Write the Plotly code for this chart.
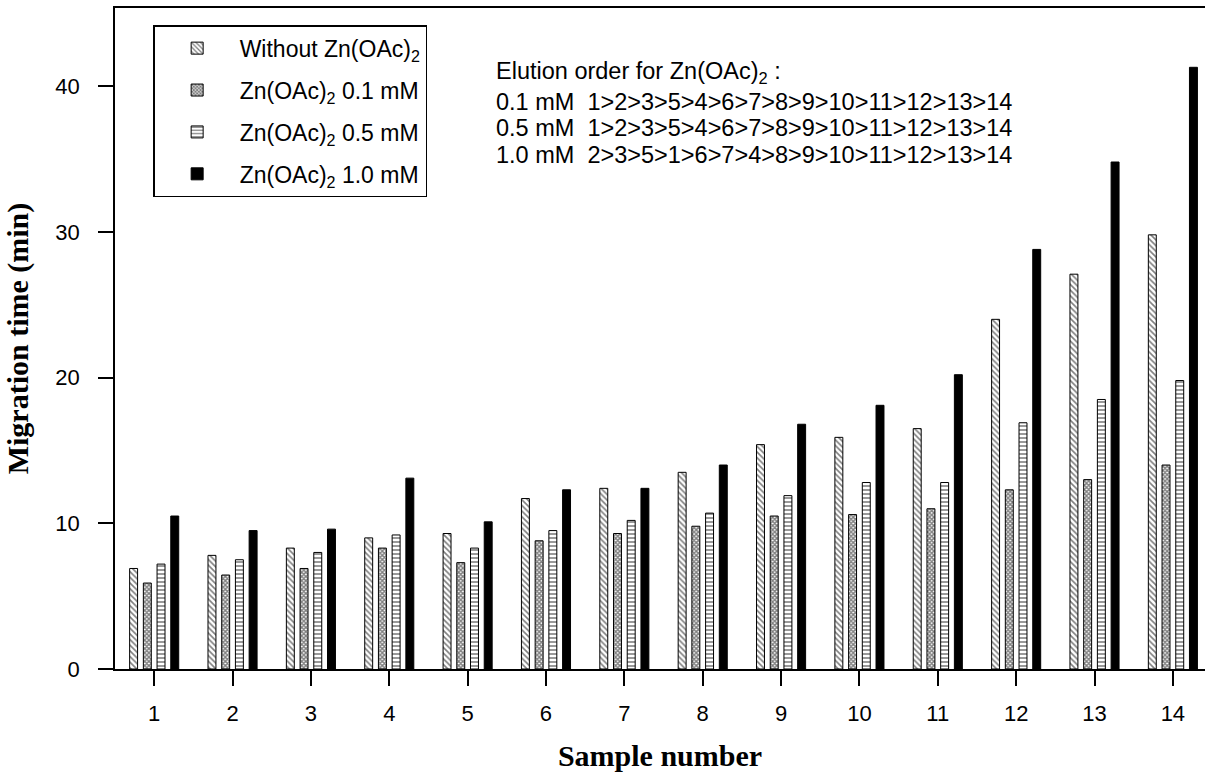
import plotly.graph_objects as go

samples = list(range(1, 15))
without_zn = [6.9, 7.8, 8.3, 9.0, 9.3, 11.7, 12.4, 13.5, 15.4, 15.9, 16.5, 24.0, 27.1, 29.8]
zn_01 = [5.9, 6.45, 6.9, 8.3, 7.3, 8.8, 9.3, 9.8, 10.5, 10.6, 11.0, 12.3, 13.0, 14.0]
zn_05 = [7.2, 7.5, 8.0, 9.2, 8.3, 9.5, 10.2, 10.7, 11.9, 12.8, 12.8, 16.9, 18.5, 19.8]
zn_10 = [10.5, 9.5, 9.6, 13.1, 10.1, 12.3, 12.4, 14.0, 16.8, 18.1, 20.2, 28.8, 34.8, 41.3]

series_names = ["Without Zn(OAc)<sub>2</sub>",
                "Zn(OAc)<sub>2</sub> 0.1 mM",
                "Zn(OAc)<sub>2</sub> 0.5 mM",
                "Zn(OAc)<sub>2</sub> 1.0 mM"]

annot_lines = ["Elution order for Zn(OAc)<sub>2</sub> :",
               "0.1 mM\u00a0\u00a01>2>3>5>4>6>7>8>9>10>11>12>13>14",
               "0.5 mM\u00a0\u00a01>2>3>5>4>6>7>8>9>10>11>12>13>14",
               "1.0 mM\u00a0\u00a02>3>5>1>6>7>4>8>9>10>11>12>13>14"]

fig = go.Figure()
styles = [
    dict(color="white", pattern=dict(shape="\\", fgcolor="black", bgcolor="white", size=4, solidity=0.4)),
    dict(color="white", pattern=dict(shape="x", fgcolor="black", bgcolor="white", size=3, solidity=0.7)),
    dict(color="white", pattern=dict(shape="-", fgcolor="black", bgcolor="white", size=4, solidity=0.4)),
    dict(color="black"),
]
for i, (name, vals) in enumerate(zip(series_names, [without_zn, zn_01, zn_05, zn_10])):
    m = dict(styles[i])
    m["line"] = dict(color="black", width=1)
    fig.add_trace(go.Bar(x=samples, y=vals, name=name, marker=m, legendgroup=f"g{i}"))

font_sans = "Liberation Sans, Arial, sans-serif"
font_serif = "Liberation Serif, Times New Roman, serif"

fig.update_layout(
    width=1205, height=774,
    margin=dict(l=115, r=0, t=8, b=105),
    paper_bgcolor="white", plot_bgcolor="white",
    barmode="group", bargap=0.3, bargroupgap=0.42,
    showlegend=True,
    legend=dict(x=0.035, y=0.974, xanchor="left", yanchor="top",
                bordercolor="black", borderwidth=1.5, bgcolor="white",
                font=dict(family=font_sans, size=23, color="black"),
                itemwidth=75,
                traceorder="grouped", tracegroupgap=9),
    font=dict(family=font_sans, color="black"),
)
fig.update_xaxes(
    range=[0.5, 14.41], tickvals=samples, ticktext=[str(s) for s in samples],
    ticks="outside", ticklen=15, tickwidth=1.5, tickcolor="black",
    showline=True, linecolor="black", linewidth=1.5, mirror=True,
    showgrid=False, zeroline=False,
    tickfont=dict(family=font_sans, size=22, color="black"),
    ticklabelstandoff=9,
    title=dict(text="<b>Sample number</b>", font=dict(family=font_serif, size=30, color="black"), standoff=20),
)
fig.update_yaxes(
    range=[0, 45.37], tickvals=[0, 10, 20, 30, 40],
    ticks="outside", ticklen=15, tickwidth=1.5, tickcolor="black",
    showline=True, linecolor="black", linewidth=1.5,
    showgrid=False, zeroline=False,
    tickfont=dict(family=font_sans, size=22, color="black"),
    ticklabelstandoff=14,
    title=dict(text="<b>Migration time (min)</b>", font=dict(family=font_serif, size=30, color="black"), standoff=18),
)

ys = [0.903, 0.858, 0.819, 0.778]
for txt, yy in zip(annot_lines, ys):
    fig.add_annotation(x=(494 - 115) / 1090, y=yy, xref="paper", yref="paper",
                       xanchor="left", yanchor="middle", showarrow=False,
                       text=txt, font=dict(family=font_sans, size=23.5, color="black"))

fig.write_html("out.html")
